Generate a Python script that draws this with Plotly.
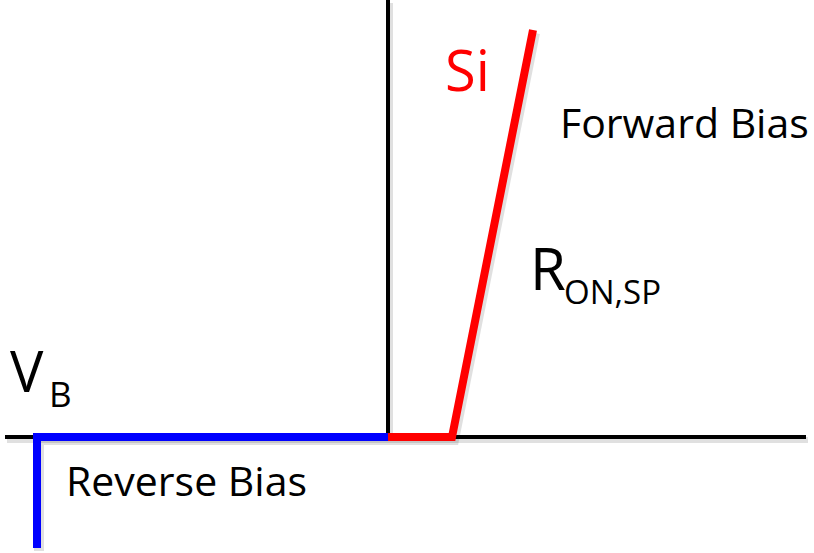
import plotly.graph_objects as go

# Schematic I-V characteristic of a Si power diode (arbitrary units, origin at 0,0)
axis_x_extent = [-383, 418]      # horizontal (voltage) axis
axis_y_extent = [0, 437]         # vertical (current) axis

reverse_v = [0, -351, -351]      # reverse branch, breaks down at V_B
reverse_i = [0, 0, -111]

forward_v = [0, 64, 145]         # forward branch: knee then R_ON,SP slope
forward_i = [0, 0, 407]

FONT = "Open Sans"

fig = go.Figure()

# soft drop shadow under every stroke
sh_dx, sh_dy = 2, -3
for xs, ys, w in [
    (axis_x_extent, [0, 0], 4),
    ([0, 0], axis_y_extent, 4),
    (reverse_v, reverse_i, 8),
    (forward_v, forward_i, 8),
]:
    fig.add_trace(go.Scatter(
        x=[v + sh_dx for v in xs], y=[v + sh_dy for v in ys], mode="lines",
        line=dict(color="rgba(0,0,0,0.12)", width=w + 2),
        hoverinfo="skip", showlegend=False))

# axes
fig.add_trace(go.Scatter(x=axis_x_extent, y=[0, 0], mode="lines",
                         line=dict(color="black", width=4), showlegend=False))
fig.add_trace(go.Scatter(x=[0, 0], y=axis_y_extent, mode="lines",
                         line=dict(color="black", width=4), showlegend=False))

# reverse and forward branches
fig.add_trace(go.Scatter(x=reverse_v, y=reverse_i, mode="lines",
                         line=dict(color="#0000ff", width=8), showlegend=False))
fig.add_trace(go.Scatter(x=forward_v, y=forward_i, mode="lines",
                         line=dict(color="#ff0000", width=8), showlegend=False))

# labels; subscripts are set as their own smaller text next to the main symbol
labels = [
    dict(text="Si", x=55, y=368, size=56, color="#ff0000"),
    dict(text="Forward Bias", x=170, y=315, size=41, color="black"),
    dict(text="R", x=140, y=170, size=58, color="black"),
    dict(text="ON,SP", x=174, y=146, size=33, color="black"),
    dict(text="V", x=-380, y=67, size=56, color="black"),
    dict(text="B", x=-341, y=44, size=35, color="black"),
    dict(text="Reverse Bias", x=-324, y=-43, size=41, color="black"),
]
for lb in labels:
    fig.add_annotation(x=lb["x"], y=lb["y"], xref="x", yref="y", text=lb["text"],
                       showarrow=False, xanchor="left", yanchor="middle",
                       font=dict(family=FONT, size=lb["size"], color=lb["color"]))

fig.update_layout(
    width=814, height=553,
    margin=dict(l=0, r=0, t=0, b=0),
    paper_bgcolor="white", plot_bgcolor="white",
    xaxis=dict(range=[-388, 426], visible=False, fixedrange=True),
    yaxis=dict(range=[-116, 437], visible=False, fixedrange=True),
    showlegend=False,
)

fig.write_html("out.html")
